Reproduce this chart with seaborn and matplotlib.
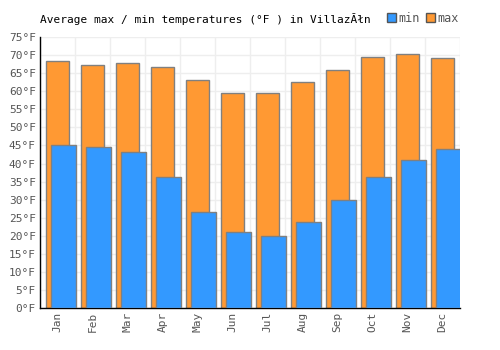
import matplotlib
matplotlib.use("Agg")
import matplotlib.pyplot as plt
import seaborn as sns
import pandas as pd
from matplotlib.patches import Patch

months = ["Jan", "Feb", "Mar", "Apr", "May", "Jun", "Jul", "Aug", "Sep", "Oct", "Nov", "Dec"]
max_temps = [68.3, 67.4, 67.7, 66.6, 63.0, 59.4, 59.4, 62.7, 65.8, 69.4, 70.2, 69.1]
min_temps = [45.0, 44.5, 43.1, 36.4, 26.5, 21.0, 19.9, 23.7, 29.8, 36.4, 40.9, 43.9]
y_ticks = list(range(0, 80, 5))

sns.set_theme(style="white")
plt.rcParams['font.family'] = ['DejaVu Sans Mono', 'DejaVu Sans']

df = pd.DataFrame({"month": months, "max": max_temps, "min": min_temps})

fig = plt.figure(figsize=(5, 3.5), dpi=100)
ax = fig.add_axes([0.08, 0.12, 0.84, 0.774])

sns.barplot(data=df, x="month", y="max", color="#FF9933", width=0.66,
            edgecolor="#808080", linewidth=1, saturation=1, ax=ax, zorder=2)
n_max = len(ax.patches)
sns.barplot(data=df, x="month", y="min", color="#3399FF", width=0.70,
            edgecolor="#808080", linewidth=1, saturation=1, ax=ax, zorder=3)
for p in ax.patches[n_max:]:
    p.set_x(p.get_x() + 0.17)

ax.set_xlim(-0.5, 11.5)
ax.set_ylim(0, 75)
ax.set_yticks(y_ticks)
ax.set_yticklabels([f"{t}°F" for t in y_ticks])
ax.set_xticks(range(12))
ax.set_xticklabels(months, rotation=90)
ax.set_xticks([i + 0.5 for i in range(-1, 12)], minor=True)
ax.grid(False)
ax.grid(which="minor", axis="x", color="#eeeeee", linewidth=1, zorder=0)
ax.grid(which="major", axis="y", color="#eeeeee", linewidth=1, zorder=0)
ax.set_axisbelow(True)
ax.set_xlabel("")
ax.set_ylabel("")
ax.tick_params(axis="both", which="both", length=0, labelsize=8, colors="#555555", pad=3)
for s in ["top", "right"]:
    ax.spines[s].set_visible(False)
for s in ["left", "bottom"]:
    ax.spines[s].set_color("black")
    ax.spines[s].set_linewidth(1)

fig.text(0.08, 0.945, "Average max / min temperatures (°F ) in VillazĂłn",
         fontsize=8, color="black", va="center", ha="left")

handles = [Patch(facecolor="#3399FF", edgecolor="#555555", label="min"),
           Patch(facecolor="#FF9933", edgecolor="#555555", label="max")]
leg = fig.legend(handles=handles, loc="center right", bbox_to_anchor=(0.93, 0.948),
                 ncol=2, frameon=False, fontsize=8.5, handlelength=0.8, handleheight=0.8,
                 handletextpad=0.2, columnspacing=0.5, borderpad=0)
for t in leg.get_texts():
    t.set_color("#555555")

fig.savefig("out.png", dpi=100)
